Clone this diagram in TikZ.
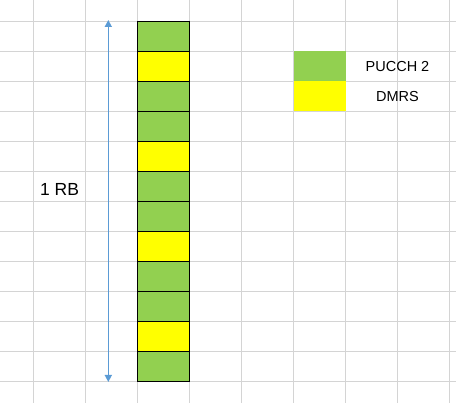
\documentclass[tikz,border=0pt]{standalone}
\usepackage{fontspec}
\setmainfont{Liberation Sans}
\usetikzlibrary{arrows.meta}
\definecolor{pucchgreen}{HTML}{92D050}
\definecolor{dmrsyellow}{HTML}{FFFF00}
\definecolor{sheetgrid}{HTML}{D4D4D4}
\definecolor{rbblue}{HTML}{5B9BD5}
\tikzset{
  gridline/.style={draw=sheetgrid, line width=1pt},
  cell/.style={draw=black, line width=1pt, minimum width=52pt, minimum height=30pt, inner sep=0pt},
  legendbox/.style={minimum width=52pt, minimum height=30pt, inner sep=0pt},
  legendtext/.style={font=\fontsize{14.5}{17}\selectfont},
  rbarrow/.style={draw=rbblue, line width=1.5pt, {Triangle[length=7pt,width=7pt]}-{Triangle[length=7pt,width=7pt]}}
}
\begin{document}
\begin{tikzpicture}[x=1pt, y=-1pt]
      \useasboundingbox (0,0) rectangle (456,403);
      % spreadsheet grid
      \foreach \k in {0,...,8}
        \draw[gridline] (33.5+52*\k,0) -- (33.5+52*\k,403);
      \foreach \k in {0,...,12}
        \draw[gridline] (0,21.3+30*\k) -- (456,21.3+30*\k);
      % resource elements of one RB
      \foreach \i/\c in {0/pucchgreen,1/dmrsyellow,2/pucchgreen,3/pucchgreen,4/dmrsyellow,5/pucchgreen,
                         6/pucchgreen,7/dmrsyellow,8/pucchgreen,9/pucchgreen,10/dmrsyellow,11/pucchgreen}
        \node[cell, fill=\c] (re\i) at (163.5,36.3+30*\i) {};
      % 1 RB span
      \coordinate (rbtop) at (108.3,20);
      \coordinate (rbbot) at (108.3,382);
      \draw[rbarrow] (rbbot) -- (rbtop);
      \node[font=\fontsize{17.5}{20}\selectfont] (rb) at (59.5,189.5) {1 RB};
      % legend
      \node[legendbox, fill=pucchgreen] (lgpucch) at (319.5,66.3) {};
      \node[legendbox, fill=dmrsyellow] (lgdmrs) at (319.5,96.3) {};
      \node[legendtext] (lgpucchtxt) at (397.5,66.3) {PUCCH 2};
      \node[legendtext] (lgdmrstxt) at (397.5,96.3) {DMRS};
    \end{tikzpicture}
\end{document}
